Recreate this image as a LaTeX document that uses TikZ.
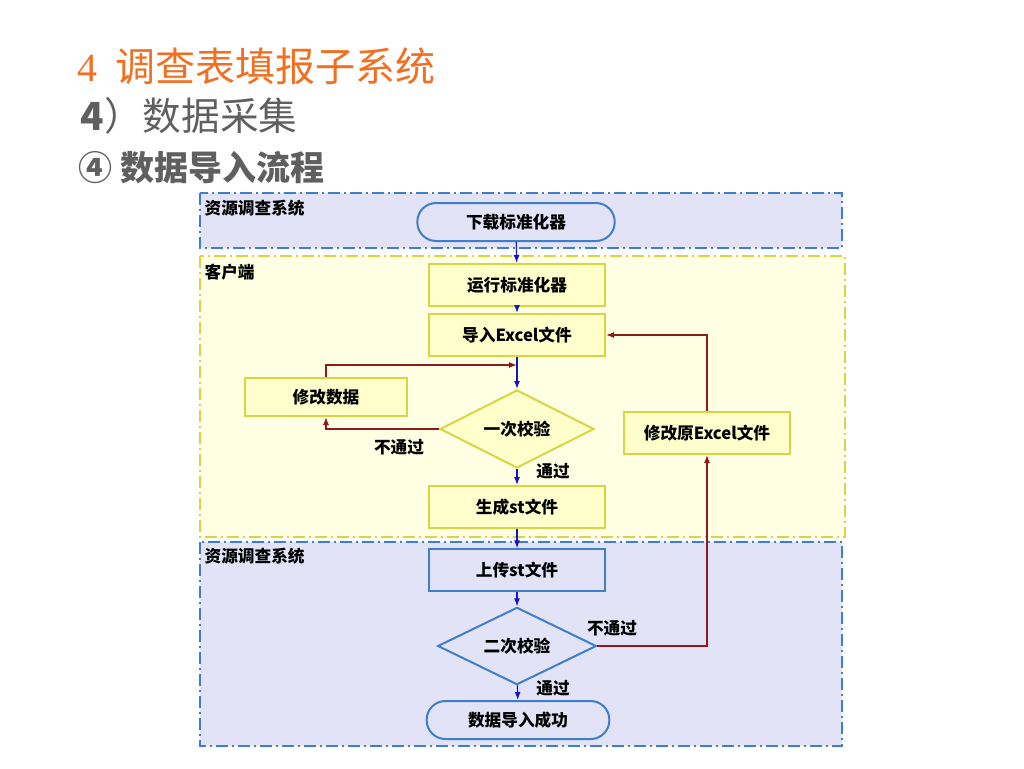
\documentclass[tikz,border=0pt]{standalone}
\usepackage{fontspec}
\setmainfont{Noto Sans CJK SC}
\newfontfamily\numfont{Liberation Serif}
\usepackage{tikz}
\usetikzlibrary{shapes.geometric,arrows.meta}
\definecolor{titleorange}{HTML}{F26F21}
\definecolor{titlegray}{HTML}{5F5F5F}
\definecolor{bandblue}{HTML}{E3E3F7}
\definecolor{lineblue}{HTML}{3F7FC9}
\definecolor{bandyellow}{HTML}{FFFFE3}
\definecolor{lineyellow}{HTML}{D6D645}
\definecolor{boxyellow}{HTML}{FFFFCC}
\definecolor{arrowblue}{HTML}{1414C8}
\definecolor{arrowred}{HTML}{8C1C1C}

\begin{document}
\begin{tikzpicture}[x=0.75pt,y=-0.75pt,
  every node/.style={font=\bfseries\fontsize{12.5pt}{14pt}\selectfont},
  band/.style={line width=1.4pt, dash pattern=on 9pt off 3pt on 1.5pt off 3pt},
  ybox/.style={draw=lineyellow, line width=1.5pt, fill=boxyellow, minimum width=132pt, minimum height=31.5pt},
  bbox/.style={draw=lineblue, line width=1.5pt, fill=bandblue, minimum width=132pt, minimum height=31pt},
  term/.style={draw=lineblue, line width=1.5pt, fill=bandblue, rounded corners=14pt, minimum height=28.5pt},
  check/.style={diamond, draw, line width=1.5pt, aspect=2, inner sep=0pt},
  bluearr/.style={draw=arrowblue, line width=0.9pt, -{Latex[length=6pt,width=4.5pt]}},
  redarr/.style={draw=arrowred, line width=0.9pt, -{Latex[length=6pt,width=4.5pt]}}]
\useasboundingbox (0,0) rectangle (1024,768);

\node[anchor=west, text=titleorange, font=\fontsize{30pt}{34pt}\selectfont] (title) at (73,66) {{\fontspec{Liberation Serif}4}\ \ 调查表填报子系统};
\node[anchor=west, text=titlegray, font=\fontsize{29pt}{34pt}\selectfont] (sub) at (76,116) {\textbf{4}）数据采集};
\node[anchor=west, text=titlegray, font=\bfseries\fontsize{25.5pt}{30pt}\selectfont] (subsub) at (74,168) {④ 数据导入流程};

\draw[band, draw=lineblue, fill=bandblue] (200,193) rectangle (842,248);
\draw[band, draw=lineyellow, fill=bandyellow] (200,256) rectangle (845,537);
\draw[band, draw=lineblue, fill=bandblue] (200,542) rectangle (842,746);
\node[anchor=north west, inner sep=1pt] (sys1) at (203,198) {资源调查系统};
\node[anchor=north west, inner sep=1pt] (client) at (203,262) {客户端};
\node[anchor=north west, inner sep=1pt] (sys2) at (203,546) {资源调查系统};

\node[term, minimum width=148pt] (dl) at (516,222) {下载标准化器};
\node[ybox] (run) at (517,285) {运行标准化器};
\node[ybox] (imp) at (517,335) {导入Excel文件};
\node[ybox, minimum width=121.5pt, minimum height=28.5pt] (fix) at (326,397) {修改数据};
\node[check, draw=lineyellow, fill=boxyellow, minimum width=115.5pt, minimum height=58.5pt] (chk1) at (517,429) {一次校验};
\node[ybox, minimum width=124pt] (fixx) at (707,433) {修改原Excel文件};
\node[ybox] (gen) at (517,507) {生成st文件};
\node[bbox] (up) at (517,570) {上传st文件};
\node[check, draw=lineblue, fill=bandblue, minimum width=119pt, minimum height=58pt] (chk2) at (517,646) {二次校验};
\node[term, minimum width=137pt] (ok) at (518,720) {数据导入成功};

\coordinate (merge) at (517,365);
\draw[bluearr] (dl) -- (run);
\draw[bluearr] (run) -- (imp);
\draw[bluearr] (imp) -- (chk1);
\draw[bluearr] (chk1) -- (gen);
\draw[bluearr] (gen) -- (up);
\draw[bluearr] (up) -- (chk2);
\draw[bluearr] (chk2) -- (ok);
\draw[redarr] (chk1.west) -| (fix.south);
\draw[redarr] (fix.north) |- (merge);
\draw[redarr] (chk2.east) -| (fixx.south);
\draw[redarr] (fixx.north) |- (imp.east);

\node (fail1) at (399,447) {不通过};
\node (pass1) at (553,471) {通过};
\node (fail2) at (612,628) {不通过};
\node (pass2) at (553,688) {通过};
\end{tikzpicture}
\end{document}
